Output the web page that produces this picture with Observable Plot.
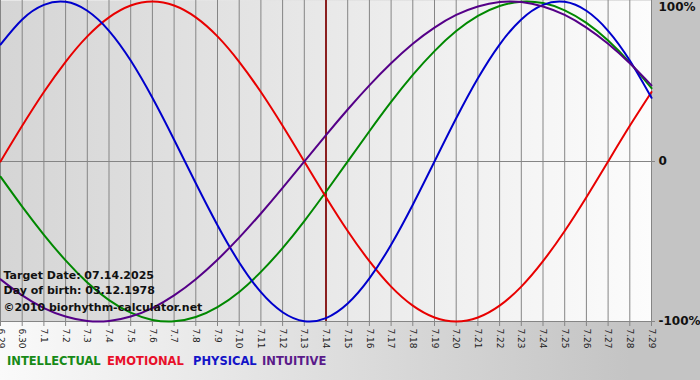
<!DOCTYPE html>
<html><head><meta charset="utf-8">
<script src="https://cdn.jsdelivr.net/npm/d3@7"></script>
<script src="https://cdn.jsdelivr.net/npm/@observablehq/plot@0.6"></script>
<style>
html,body{margin:0;padding:0;background:#fff;}
#wrap{position:relative;width:700px;height:380px;background:linear-gradient(to right,#fafafa 0%,#c4c4c4 90%,#c4c4c4 100%);font-family:"DejaVu Sans",Verdana,sans-serif;overflow:hidden}
#side{position:absolute;left:651px;top:0;width:49px;height:322px;background:#c4c4c4}
#chart{position:absolute;left:0;top:0}
#legend{position:absolute;left:0;top:356px;width:700px;height:16px;font-weight:bold;font-size:11.5px;line-height:11px;white-space:pre}
#legend span{position:absolute;top:0}
</style></head><body>
<div id="wrap"><div id="side"></div><div id="chart"></div><div id="legend"></div></div>
<script>
// x categories (one per day)
const dayLabels = ["6.29","6.30","7.1","7.2","7.3","7.4","7.5","7.6","7.7","7.8","7.9","7.10","7.11","7.12","7.13","7.14","7.15","7.16","7.17","7.18","7.19","7.20","7.21","7.22","7.23","7.24","7.25","7.26","7.27","7.28","7.29"];
const targetLabel = "7.14";
// series values (fraction of 100%)
const intellectual = [-0.095,-0.282,-0.458,-0.618,-0.756,-0.866,-0.945,-0.990,-0.999,-0.972,-0.910,-0.815,-0.690,-0.541,-0.372,-0.189,0,0.189,0.372,0.541,0.690,0.815,0.910,0.972,0.999,0.990,0.945,0.866,0.756,0.618,0.458];
const emotional = [0,0.223,0.434,0.623,0.782,0.901,0.975,1,0.975,0.901,0.782,0.623,0.434,0.223,0,-0.223,-0.434,-0.623,-0.782,-0.901,-0.975,-1,-0.975,-0.901,-0.782,-0.623,-0.434,-0.223,0,0.223,0.434];
const physical = [0.731,0.888,0.979,0.998,0.942,0.817,0.631,0.398,0.136,-0.136,-0.398,-0.631,-0.817,-0.942,-0.998,-0.979,-0.888,-0.731,-0.520,-0.270,0,0.270,0.520,0.731,0.888,0.979,0.998,0.942,0.817,0.631,0.398];
const intuitive = [-0.736,-0.837,-0.916,-0.969,-0.997,-0.997,-0.969,-0.916,-0.837,-0.736,-0.614,-0.476,-0.325,-0.165,0,0.165,0.325,0.476,0.614,0.736,0.837,0.916,0.969,0.997,0.997,0.969,0.916,0.837,0.736,0.614,0.476];
const seriesNames = ["INTELLECTUAL","EMOTIONAL","PHYSICAL","INTUITIVE"];
const yTickLabels = ["100%","0","-100%"];
const infoLines = ["Target Date: 07.14.2025","Day of birth: 03.12.1978"];
const copyright = "©2010 biorhythm-calculator.net";

// styles
const lineColors = ["#008800","#e80000","#0000cc","#550088"];
const legendColors = ["#178a17","#e8102a","#1414c8","#5a1a8a"];
const legendLeft = [7,107,193,262];

const seriesValues = [intellectual, emotional, physical, intuitive];
const rows = seriesNames.flatMap((name, k) => seriesValues[k].map((v, i) => ({series: name, day: i, value: v})));
const dayIdx = dayLabels.map((_, i) => i);
const targetIdx = dayLabels.indexOf(targetLabel);

const svg = Plot.plot({
  width: 700, height: 380,
  marginLeft: 0, marginRight: 49, marginTop: 1, marginBottom: 59,
  style: {background: "transparent", fontFamily: "'DejaVu Sans', Verdana, sans-serif", color: "black", overflow: "visible"},
  x: {domain: [0, dayLabels.length - 1], label: null},
  y: {domain: [-1, 1], label: null},
  color: {domain: seriesNames, range: lineColors},
  marks: [
    Plot.frame({fill: "url(#plotbg)", stroke: "none", insetTop: -1}),
    Plot.ruleX(dayIdx, {stroke: "#858585", strokeWidth: 1, insetTop: -1}),
    Plot.ruleY([0], {stroke: "#858585", strokeWidth: 1}),
    Plot.ruleY([-1], {stroke: "#858585", strokeWidth: 1}),
    Plot.axisX({ticks: dayIdx, tickFormat: i => dayLabels[i], tickRotate: 90, tickSize: 5, tickPadding: 2, fontSize: 9, stroke: "#858585", fill: "#222", label: null}),
    Plot.axisY({anchor: "right", ticks: [0, -1], tickFormat: d => d === 0 ? yTickLabels[1] : yTickLabels[2], tickSize: 3, tickPadding: 4, fontSize: 12, fontWeight: "bold", stroke: "#858585", fill: "#111", label: null}),
    Plot.axisY({anchor: "right", ticks: [1], tickFormat: () => yTickLabels[0], tickSize: 0, tickPadding: 7, dy: 6, fontSize: 12, fontWeight: "bold", fill: "#111", label: null}),
    Plot.ruleX([targetIdx], {stroke: "#8a1f1f", strokeWidth: 2, insetTop: -1}),
    Plot.line(rows, {x: "day", y: "value", z: "series", stroke: "series", strokeWidth: 2, curve: "natural"}),
    Plot.text([infoLines.join("\n")], {text: d => d, frameAnchor: "top-left", lineAnchor: "top", textAnchor: "start", dx: 3, dy: 267, lineHeight: 1.34, fontSize: 11, fontWeight: "bold", fill: "#111"}),
    Plot.text([copyright], {text: d => d, frameAnchor: "top-left", lineAnchor: "top", textAnchor: "start", dx: 3, dy: 302, fontSize: 11, fontWeight: "bold", fill: "#111"})
  ]
});
const defs = d3.select(svg).insert("defs", ":first-child");
const g = defs.append("linearGradient").attr("id", "plotbg").attr("x1", 0).attr("x2", 1).attr("y1", 0).attr("y2", 0);
g.append("stop").attr("offset", "0%").attr("stop-color", "#d5d5d5");
g.append("stop").attr("offset", "100%").attr("stop-color", "#fcfcfc");
document.getElementById("chart").appendChild(svg);

const legend = document.getElementById("legend");
seriesNames.forEach((n, k) => {
  const s = document.createElement("span");
  s.textContent = n;
  s.style.color = legendColors[k];
  s.style.left = legendLeft[k] + "px";
  legend.appendChild(s);
});
</script>
</body></html>
